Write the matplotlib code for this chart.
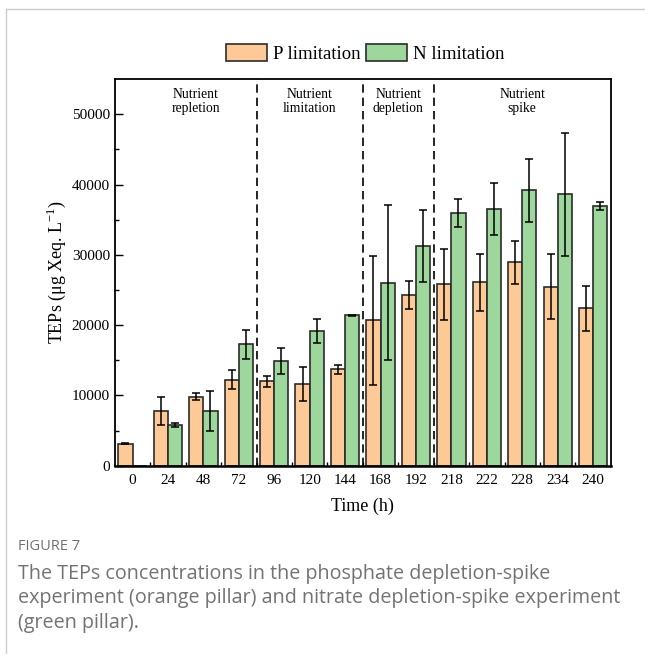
import numpy as np
import matplotlib
matplotlib.use("Agg")
import matplotlib.pyplot as plt
from matplotlib.lines import Line2D

plt.rcParams['font.family'] = ['Liberation Serif', 'DejaVu Serif']
plt.rcParams['mathtext.fontset'] = 'custom'
plt.rcParams['mathtext.rm'] = 'Liberation Serif'

# data
times = ['0', '24', '48', '72', '96', '120', '144', '168', '192', '218', '222', '228', '234', '240']
p_mean = [3130, 7780, 9820, 12190, 12000, 11580, 13710, 20680, 24240, 25800, 26080, 28940, 25460, 22390]
p_err = [60, 2000, 500, 1350, 800, 2420, 600, 9200, 2000, 5070, 4030, 3050, 4600, 3220]
n_mean = [0, 5830, 7780, 17270, 14890, 19200, 21390, 26030, 31250, 36000, 36510, 39170, 38600, 36890]
n_err = [0, 300, 2850, 2100, 1900, 1700, 100, 11000, 5150, 2000, 3650, 4500, 8700, 560]
phase_names = ['Nutrient\nrepletion', 'Nutrient\nlimitation', 'Nutrient\ndepletion', 'Nutrient\nspike']
phase_bounds = [3.5, 6.5, 8.5]
phase_centers = [1.78, 5.0, 7.5, 11.0]

orange = '#FDC997'
green = '#9DD79C'
edge = '#2b2b2b'

fig = plt.figure(figsize=(6.45, 6.54), dpi=100)
ax = fig.add_axes([0.178, 0.288, 0.769, 0.591])

x = np.arange(len(times))
w = 0.4
ax.bar(x - w / 2, p_mean, w, color=orange, edgecolor=edge, linewidth=1.2, label='P limitation', zorder=2)
ax.bar(x + w / 2, n_mean, w, color=green, edgecolor=edge, linewidth=1.2, label='N limitation', zorder=2)
ax.errorbar(x - w / 2, p_mean, yerr=p_err, fmt='none', ecolor='black', elinewidth=1.1, capsize=3, capthick=1.1, zorder=3)
nz = [i for i in range(len(times)) if n_mean[i] > 0]
ax.errorbar(x[nz] + w / 2, np.array(n_mean)[nz], yerr=np.array(n_err)[nz], fmt='none', ecolor='black',
            elinewidth=1.1, capsize=3, capthick=1.1, zorder=3)

for b in phase_bounds:
    ax.axvline(b, color='black', linestyle=(0, (5, 3)), linewidth=1.2, zorder=1)
for c, name in zip(phase_centers, phase_names):
    ax.text(c, 53800, name, ha='center', va='top', fontsize=9.8, linespacing=1.15)

ax.set_xlim(-0.5, 13.5)
ax.set_ylim(0, 55000)
ax.set_xticks(x)
ax.set_xticklabels(times)
ax.set_xticks(np.arange(0.5, 13.5, 1), minor=True)
ax.set_yticks(np.arange(0, 50001, 10000))
ax.set_yticks(np.arange(5000, 55000, 10000), minor=True)
ax.tick_params(axis='x', which='major', length=0, labelsize=11, pad=6)
ax.tick_params(axis='x', which='minor', direction='in', length=3, width=1)
ax.tick_params(axis='y', which='major', direction='in', length=6, width=1, labelsize=11)
ax.tick_params(axis='y', which='minor', direction='in', length=3, width=1)
for s in ax.spines.values():
    s.set_linewidth(1.3)
ax.spines['bottom'].set_linewidth(1.8)

ax.set_xlabel('Time (h)', fontsize=13, labelpad=8)
ax.set_ylabel('TEPs (μg Xeq. L$^{\\mathregular{-1}}$)', fontsize=13, labelpad=3)

ax.legend(loc='lower center', bbox_to_anchor=(0.505, 1.0), ncol=2, frameon=False, fontsize=13.5,
          handlelength=2.2, handleheight=1.05, handletextpad=0.3, columnspacing=0.3, borderaxespad=0.45)

# page frame and caption
fig.add_artist(Line2D([6 / 645, 6 / 645], [0, 1 - 9 / 654], color='#cccccc', linewidth=1))
fig.add_artist(Line2D([6 / 645, 1], [1 - 9 / 654, 1 - 9 / 654], color='#cccccc', linewidth=1))
fig.text(18 / 645, 1 - 546 / 654, 'FIGURE 7', family='Open Sans', fontsize=10.5, color='#707070', va='center')
fig.text(18 / 645, 1 - 564 / 654,
         'The TEPs concentrations in the phosphate depletion-spike\n'
         'experiment (orange pillar) and nitrate depletion-spike experiment\n'
         '(green pillar).',
         family='Open Sans', fontsize=14.2, color='#737373', va='top', linespacing=1.3)

fig.savefig('out.png', dpi=100)
